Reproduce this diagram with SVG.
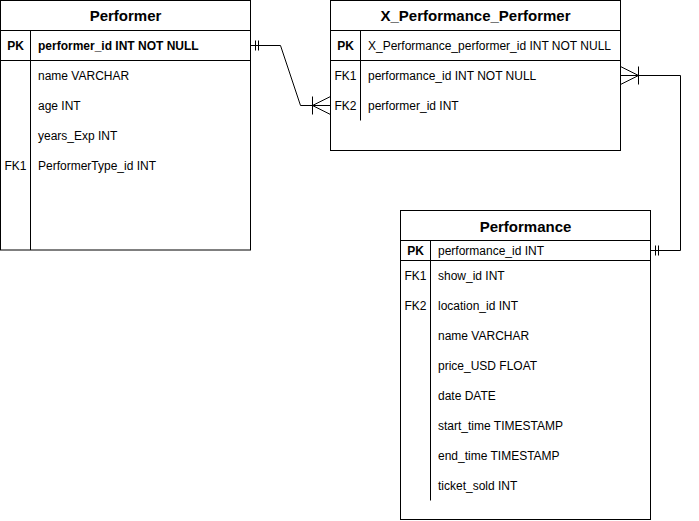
<svg xmlns="http://www.w3.org/2000/svg" width="699" height="521" viewBox="0 0 699 521">
<style>
.box{fill:#fff;stroke:#000;stroke-width:1}
.ln{stroke:#000;stroke-width:1;fill:none}
.t{font-family:"Liberation Sans",Arial,sans-serif;font-size:12px;fill:#000}
.b{font-weight:bold}
.h{font-family:"Liberation Sans",Arial,sans-serif;font-size:15px;font-weight:bold;fill:#000}
.k{text-anchor:middle}
</style>
<rect width="699" height="521" fill="#fff"/>
<g id="performer">
<rect class="box" x="0.5" y="0.5" width="250" height="249.5"/>
<line class="ln" x1="0.5" y1="30.5" x2="250.5" y2="30.5"/>
<line class="ln" x1="0.5" y1="60.5" x2="250.5" y2="60.5"/>
<line class="ln" x1="30.5" y1="30.5" x2="30.5" y2="250"/>
<text class="h k" x="125.5" y="21">Performer</text>
<text class="t b k" x="15.5" y="49.5">PK</text>
<text class="t b" x="38" y="49.5">performer_id INT NOT NULL</text>
<text class="t" x="38" y="79.5">name VARCHAR</text>
<text class="t" x="38" y="109.5">age INT</text>
<text class="t" x="38" y="139.5">years_Exp INT</text>
<text class="t k" x="15.5" y="169.5">FK1</text>
<text class="t" x="38" y="169.5">PerformerType_id INT</text>
</g>
<g id="x_performance_performer">
<rect class="box" x="330.5" y="0.5" width="290" height="150"/>
<line class="ln" x1="330.5" y1="30.5" x2="620.5" y2="30.5"/>
<line class="ln" x1="330.5" y1="60.5" x2="620.5" y2="60.5"/>
<line class="ln" x1="360.5" y1="30.5" x2="360.5" y2="120.5"/>
<text class="h k" x="475.5" y="21">X_Performance_Performer</text>
<text class="t b k" x="345.5" y="49.5">PK</text>
<text class="t" x="368" y="49.5">X_Performance_performer_id INT NOT NULL</text>
<text class="t k" x="345.5" y="79.5">FK1</text>
<text class="t" x="368" y="79.5">performance_id INT NOT NULL</text>
<text class="t k" x="345.5" y="109.5">FK2</text>
<text class="t" x="368" y="109.5">performer_id INT</text>
</g>
<g id="performance">
<rect class="box" x="400.5" y="210.5" width="250" height="309"/>
<line class="ln" x1="400.5" y1="240.5" x2="650.5" y2="240.5"/>
<line class="ln" x1="400.5" y1="260.5" x2="650.5" y2="260.5"/>
<line class="ln" x1="430.5" y1="240.5" x2="430.5" y2="500.5"/>
<text class="h k" x="525.5" y="231.5">Performance</text>
<text class="t b k" x="415.5" y="254.5">PK</text>
<text class="t" x="438" y="254.5">performance_id INT</text>
<text class="t k" x="415.5" y="279.5">FK1</text>
<text class="t" x="438" y="279.5">show_id INT</text>
<text class="t k" x="415.5" y="309.5">FK2</text>
<text class="t" x="438" y="309.5">location_id INT</text>
<text class="t" x="438" y="339.5">name VARCHAR</text>
<text class="t" x="438" y="369.5">price_USD FLOAT</text>
<text class="t" x="438" y="399.5">date DATE</text>
<text class="t" x="438" y="429.5">start_time TIMESTAMP</text>
<text class="t" x="438" y="459.5">end_time TIMESTAMP</text>
<text class="t" x="438" y="489.5">ticket_sold INT</text>
</g>
<g id="connectors">
<path class="ln" d="M250.5 45.5 H280.5 L300.5 105.5 H330.5"/>
<path class="ln" d="M255.5 40.5 V50.5 M258.5 40.5 V50.5"/>
<path class="ln" d="M330.5 96.5 L312.5 105.5 L330.5 114.5 M312.5 96.5 V114.5"/>
<path class="ln" d="M620.5 75.5 H680.5 V250.5 H650.5"/>
<path class="ln" d="M655.5 245.5 V255.5 M658.5 245.5 V255.5"/>
<path class="ln" d="M620.5 66.5 L638.5 75.5 L620.5 84.5 M638.5 66.5 V84.5"/>
</g>
</svg>
